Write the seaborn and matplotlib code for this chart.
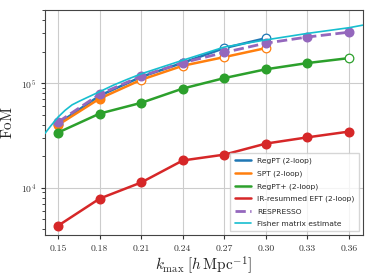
import numpy as np
import pandas as pd
import matplotlib
matplotlib.use("Agg")
import matplotlib.pyplot as plt
import seaborn as sns

# k_max values for the models
kmax = [0.15, 0.18, 0.21, 0.24, 0.27, 0.30, 0.33, 0.36]

regpt = [4.1e4, 7.6e4, 1.15e5, 1.57e5, 2.17e5, 2.70e5]
spt = [3.99e4, 7.13e4, 1.08e5, 1.47e5, 1.78e5, 2.17e5]
regpt_plus = [3.37e4, 5.12e4, 6.49e4, 8.89e4, 1.12e5, 1.36e5, 1.56e5, 1.74e5]
eft = [4.32e3, 7.85e3, 1.12e4, 1.82e4, 2.07e4, 2.64e4, 3.03e4, 3.44e4]
respresso = [4.25e4, 7.85e4, 1.17e5, 1.57e5, 1.97e5, 2.42e5, 2.77e5, 3.08e5]

# Fisher matrix estimate
k_fisher = [0.1404, 0.145, 0.15, 0.155, 0.16, 0.165, 0.17, 0.18, 0.19, 0.20,
            0.21, 0.22, 0.24, 0.27, 0.30, 0.33, 0.36, 0.37]
fisher = [3.3e4, 3.95e4, 4.75e4, 5.5e4, 6.2e4, 6.7e4, 7.2e4, 8.3e4, 9.6e4, 1.09e5,
          1.23e5, 1.36e5, 1.66e5, 2.22e5, 2.6e5, 3.0e5, 3.4e5, 3.6e5]

# which points are drawn as open circles
open_regpt = [False, False, False, False, True, True]
open_spt = [False, False, True, True, True, True]
open_regpt_plus = [False] * 7 + [True]

sns.set_style("ticks")
plt.rcParams["font.family"] = "serif"
plt.rcParams["font.serif"] = ["cmr10", "DejaVu Serif"]
plt.rcParams["mathtext.fontset"] = "cm"
plt.rcParams["axes.formatter.use_mathtext"] = True
plt.rcParams["axes.unicode_minus"] = False

fig, ax = plt.subplots(figsize=(3.74, 2.80), dpi=100)

lw = 1.8
ms = 6.2

series = [
    ("RegPT (2-loop)", kmax[:6], regpt, "#1f77b4", open_regpt),
    ("SPT (2-loop)", kmax[:6], spt, "#ff7f0e", open_spt),
    ("RegPT+ (2-loop)", kmax, regpt_plus, "#2ca02c", open_regpt_plus),
    ("IR-resummed EFT (2-loop)", kmax, eft, "#d62728", [False] * 8),
]

for label, ks, vals, col, opens in series:
    sns.lineplot(x=ks, y=vals, ax=ax, color=col, lw=lw, label=label, zorder=3)
    kf = [k for k, o in zip(ks, opens) if not o]
    vf = [v for v, o in zip(vals, opens) if not o]
    ko = [k for k, o in zip(ks, opens) if o]
    vo = [v for v, o in zip(vals, opens) if o]
    ax.plot(kf, vf, "o", color=col, ms=ms, zorder=3)
    ax.plot(ko, vo, "o", mfc="white", mec=col, mew=0.9, ms=ms, zorder=3)

sns.lineplot(x=kmax, y=respresso, ax=ax, color="#9467bd", lw=2.0, ls="--",
             dashes=(3, 1.5), label="RESPRESSO", zorder=4)
ax.plot(kmax, respresso, "o", color="#9467bd", ms=ms, zorder=4)

sns.lineplot(x=k_fisher, y=fisher, ax=ax, color="#17becf", lw=1.2,
             label="Fisher matrix estimate", zorder=5)

ax.set_yscale("log")
ax.set_xlim(0.1404, 0.370)
ax.set_ylim(3.5e3, 5.05e5)
ax.set_xticks(kmax)
ax.set_xticklabels([f"{k:.2f}" for k in kmax])
ax.grid(True, which="major", color="#cccccc", lw=0.8)
ax.tick_params(labelsize=7, colors="#333333", length=3)
ax.tick_params(which="minor", length=2)
for s in ax.spines.values():
    s.set_color("#444444")

ax.set_xlabel(r"$k_{\rm max}\;[h\,{\rm Mpc}^{-1}]$", fontsize=11, labelpad=1)
ax.set_ylabel(r"${\rm FoM}$", fontsize=11, labelpad=4)

leg = ax.legend(loc="lower right", prop={"family": "DejaVu Sans", "size": 5.4},
                frameon=True, fancybox=False, handlelength=2.2,
                borderpad=0.6, labelspacing=0.8)
leg.get_frame().set_edgecolor("#cccccc")

fig.subplots_adjust(left=0.12, right=0.97, bottom=0.16, top=0.965)
fig.savefig("out.png", dpi=100)
